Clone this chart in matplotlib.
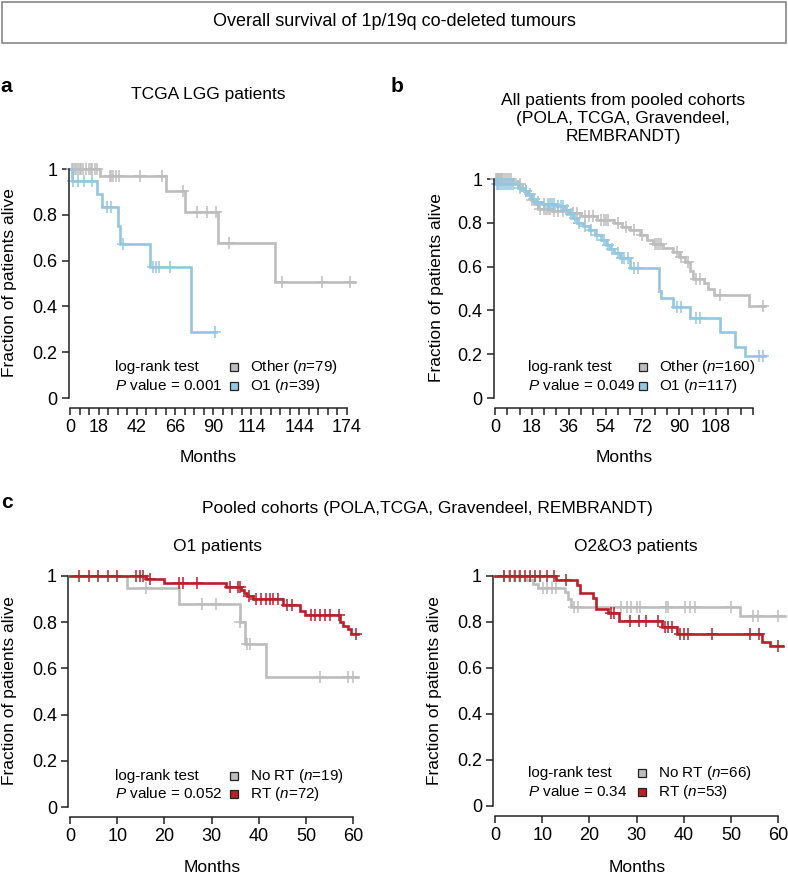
import numpy as np
import matplotlib
matplotlib.use("Agg")
import matplotlib.pyplot as plt
from matplotlib.patches import Rectangle

plt.rcParams['font.family'] = ['Liberation Sans', 'DejaVu Sans']
plt.rcParams['mathtext.fontset'] = 'custom'
plt.rcParams['mathtext.rm'] = 'Liberation Sans'
plt.rcParams['mathtext.it'] = 'Liberation Sans:italic'

# ---- data (months, fraction alive) ----
# panel a: TCGA LGG
a_other_t = [19, 60, 72, 93, 129]
a_other_s = [0.968, 0.903, 0.813, 0.678, 0.508]
a_other_cens = [1, 2, 3, 4, 5, 6, 7, 8, 10, 12, 13, 14, 16, 17, 25, 26, 27, 29, 31,
                44, 58, 71, 80, 86, 92, 100, 133, 158, 176]
a_other_end = 179
a_o1_t = [1, 17, 20, 30, 31.5, 50, 76]
a_o1_s = [0.949, 0.889, 0.836, 0.752, 0.672, 0.573, 0.287]
a_o1_cens = [2, 5, 9, 14, 23, 26, 33, 52, 54, 56, 63, 91]
a_o1_end = 92

# panel b: pooled cohorts
b_other_t = [9, 11, 13, 14.5, 16, 17.5, 19, 21, 28, 36, 42, 50, 58, 62, 66, 71, 74, 77,
             82, 87, 90, 93, 95, 96.5, 102, 104, 107, 124]
b_other_s = [0.99, 0.975, 0.96, 0.945, 0.925, 0.905, 0.885, 0.865, 0.855, 0.845, 0.83,
             0.815, 0.80, 0.78, 0.765, 0.745, 0.72, 0.705, 0.685, 0.665, 0.645, 0.62,
             0.58, 0.545, 0.525, 0.50, 0.47, 0.42]
b_other_cens = [0.5, 1, 1.5, 2, 2.5, 3, 3.5, 4, 5, 6, 7, 8, 12, 15, 18, 22, 24, 25, 26, 27,
                29, 31, 33, 38, 40, 44, 46, 48, 52, 53, 54, 55, 60, 64, 68, 72, 78, 79,
                80, 81, 89, 91, 94, 98, 100, 110, 131]
b_other_end = 132
b_o1_t = [0.5, 11, 14, 16, 18, 20, 23, 30, 34, 36, 38, 40, 43, 46, 49, 52, 54, 56, 58,
          61, 66, 80, 81, 87, 95, 110, 117, 122]
b_o1_s = [0.975, 0.96, 0.945, 0.93, 0.91, 0.895, 0.885, 0.875, 0.86, 0.84, 0.82, 0.80,
          0.785, 0.765, 0.745, 0.72, 0.70, 0.68, 0.66, 0.64, 0.595, 0.49, 0.455, 0.415,
          0.365, 0.30, 0.235, 0.19]
b_o1_cens = [1, 1.5, 2, 3, 4, 5, 6, 7, 8, 9, 12, 15, 17, 19, 21, 24, 26, 27, 28, 29, 31,
             32, 33, 35, 37, 39, 41, 44, 47, 50, 53, 55, 57, 60, 62, 63, 65, 68, 70, 89,
             91, 98, 100, 129, 131]
b_o1_end = 132

# panel c left: O1 patients
c1_nort_t = [12, 23, 36, 37, 41.5]
c1_nort_s = [0.947, 0.88, 0.80, 0.704, 0.561]
c1_nort_cens = [16, 28, 31, 36, 37.5, 38.2, 53, 59, 60]
c1_nort_end = 61
c1_rt_t = [16, 20, 33, 36.3, 36.8, 37.5, 38.8, 45.2, 48.7, 49.8, 57.2, 57.9, 58.9, 59.6]
c1_rt_s = [0.986, 0.969, 0.951, 0.94, 0.926, 0.914, 0.90, 0.876, 0.85, 0.83, 0.80,
           0.783, 0.77, 0.75]
c1_rt_cens = [2, 4, 6, 8, 10, 14, 14.8, 15.5, 17, 23, 24, 27, 34, 35.5, 36, 38, 39.5,
              40.5, 41.5, 42.3, 43, 44, 46, 47, 51, 52, 53, 54, 55, 57, 60.5]
c1_rt_end = 61

# panel c right: O2&O3 patients
c2_nort_t = [6.5, 8, 9.2, 14.8, 15.5, 16.2, 52]
c2_nort_s = [0.981, 0.964, 0.949, 0.93, 0.90, 0.865, 0.828]
c2_nort_cens = [2, 3, 4, 5, 10.2, 11, 12, 13, 16.7, 17.6, 26.8, 27.9, 28.9, 30, 30.8,
                36.3, 36.7, 40.2, 41.3, 42.3, 50, 54.7, 55.8, 60]
c2_nort_end = 61.5
c2_rt_t = [13, 17.3, 18, 20.7, 21.5, 24, 26.3, 35.3, 38.5, 56.5, 58.2]
c2_rt_s = [0.981, 0.96, 0.928, 0.906, 0.858, 0.837, 0.805, 0.78, 0.747, 0.714, 0.697]
c2_rt_cens = [2, 3.2, 4.2, 5.3, 6.4, 7.4, 8.5, 9.5, 11, 12.5, 15, 24.5, 25.3, 28.5, 30.5,
              32, 34.5, 36, 36.7, 37.5, 39.3, 40, 40.8, 46, 54, 56, 60]
c2_rt_end = 61

GREY = '#bdbdbd'
BLUE = '#95c6df'
RED = '#b8202a'
W, H = 788, 877

fig = plt.figure(figsize=(W / 100, H / 100), dpi=100)


def fx(px):
    return px / W


def fy(py):
    return 1 - py / H


def km(ax, times, surv, cens, end, color):
    x, y = [0], [1.0]
    for t, s in zip(times, surv):
        x += [t, t]
        y += [y[-1], s]
    x.append(end)
    y.append(y[-1])
    ax.plot(x, y, color=color, lw=1.9, solid_joinstyle='miter', clip_on=False)
    idx = np.searchsorted(np.array(times), np.array(cens), side='right')
    sv = np.concatenate([[1.0], surv])[idx]
    ax.plot(cens, sv, ls='none', marker='+', ms=8, mew=1.1, color=color, clip_on=False)


def make_axes(x0, ppu, xlim, y1, y0, xbound, ticks, labels):
    left = x0 + xlim[0] * ppu
    right = x0 + xlim[1] * ppu
    ax = fig.add_axes([fx(left), fy(y0), (right - left) / W, (y0 - y1) / H])
    ax.set_xlim(*xlim)
    ax.set_ylim(0, 1)
    for s in ['top', 'right']:
        ax.spines[s].set_visible(False)
    ax.spines['left'].set_bounds(0, 1)
    ax.spines['bottom'].set_bounds(*xbound)
    ax.spines['bottom'].set_position(('outward', 7.2))
    for s in ['left', 'bottom']:
        ax.spines[s].set_linewidth(1.1)
        ax.spines[s].set_color('#222222')
    ax.set_yticks([0, 0.2, 0.4, 0.6, 0.8, 1])
    ax.set_yticklabels(['0', '0.2', '0.4', '0.6', '0.8', '1'])
    ax.set_xticks(ticks)
    ax.set_xticklabels(labels)
    ax.tick_params(length=5, width=1.1, color='#222222', labelsize=13, pad=3)
    return ax


def legend(xl, xs, y1, y2, p_text, names, colors):
    fig.text(fx(xl), fy(y1), 'log-rank test', fontsize=11, va='center')
    fig.text(fx(xl), fy(y2), p_text, fontsize=11, va='center')
    for yy, name, col in zip([y1, y2], names, colors):
        fig.add_artist(Rectangle((fx(xs - 4), fy(yy + 4)), 8 / W, 8 / H, transform=fig.transFigure,
                                 facecolor=col, edgecolor='#222222', lw=0.9))
        fig.text(fx(xs + 16), fy(yy), name, fontsize=11, va='center')


# title box
fig.add_artist(Rectangle((fx(2), fy(43)), 784 / W, 41 / H, transform=fig.transFigure,
                         facecolor='none', edgecolor='#888888', lw=1.2))
fig.text(fx(394), fy(22), 'Overall survival of 1p/19q co-deleted tumours', fontsize=13,
         ha='center', va='center')

# ---- panel a ----
ticks_a = list(range(0, 175, 6))
lab_a = [str(t) if t in (0, 18, 42, 66, 90, 114, 144, 174) else '' for t in ticks_a]
ax = make_axes(70, 1.592, (-0.8, 182), 169, 398, (0, 174), ticks_a, lab_a)
km(ax, a_other_t, a_other_s, a_other_cens, a_other_end, GREY)
km(ax, a_o1_t, a_o1_s, a_o1_cens, a_o1_end, BLUE)
legend(115, 234, 367, 386, '$P$ value = 0.001', ['Other ($n$=79)', 'O1 ($n$=39)'], [GREY, BLUE])
fig.text(fx(6), fy(87), 'a', fontsize=15, fontweight='bold', ha='center', va='center')
fig.text(fx(208), fy(95), 'TCGA LGG patients', fontsize=12.5, ha='center', va='center')
fig.text(fx(10), fy(283), 'Fraction of patients alive', fontsize=12.5, rotation=90,
         ha='center', va='center')
fig.text(fx(208), fy(458), 'Months', fontsize=12.5, ha='center', va='center')

# ---- panel b ----
ticks_b = list(range(0, 127, 6))
lab_b = [str(t) if t in (0, 18, 36, 54, 72, 90, 108) else '' for t in ticks_b]
ax = make_axes(495, 2.048, (-0.6, 134), 179, 398, (0, 126), ticks_b, lab_b)
km(ax, b_other_t, b_other_s, b_other_cens, b_other_end, GREY)
km(ax, b_o1_t, b_o1_s, b_o1_cens, b_o1_end, BLUE)
legend(528, 643, 367, 386, '$P$ value = 0.049', ['Other ($n$=160)', 'O1 ($n$=117)'], [GREY, BLUE])
fig.text(fx(397), fy(87), 'b', fontsize=15, fontweight='bold', ha='center', va='center')
fig.text(fx(623), fy(118), 'All patients from pooled cohorts\n(POLA, TCGA, Gravendeel,\nREMBRANDT)',
         fontsize=12.5, ha='center', va='center', linespacing=1.25)
fig.text(fx(436), fy(288), 'Fraction of patients alive', fontsize=12.5, rotation=90,
         ha='center', va='center')
fig.text(fx(624), fy(458), 'Months', fontsize=12.5, ha='center', va='center')

# ---- panel c ----
fig.text(fx(7), fy(503), 'c', fontsize=15, fontweight='bold', ha='center', va='center')
fig.text(fx(427), fy(508), 'Pooled cohorts (POLA,TCGA, Gravendeel, REMBRANDT)', fontsize=12.5,
         ha='center', va='center')

ticks_c = list(range(0, 61, 10))
ax = make_axes(70, 4.72, (-0.4, 62), 576, 807, (0, 60), ticks_c, [str(t) for t in ticks_c])
km(ax, c1_nort_t, c1_nort_s, c1_nort_cens, c1_nort_end, GREY)
km(ax, c1_rt_t, c1_rt_s, c1_rt_cens, c1_rt_end, RED)
legend(115, 234, 776, 794, '$P$ value = 0.052', ['No RT ($n$=19)', 'RT ($n$=72)'], [GREY, RED])
fig.text(fx(217), fy(547), 'O1 patients', fontsize=12.5, ha='center', va='center')
fig.text(fx(10), fy(691), 'Fraction of patients alive', fontsize=12.5, rotation=90,
         ha='center', va='center')
fig.text(fx(212), fy(867), 'Months', fontsize=12.5, ha='center', va='center')

ax = make_axes(495, 4.72, (-0.4, 62), 576, 806, (0, 60), ticks_c, [str(t) for t in ticks_c])
km(ax, c2_nort_t, c2_nort_s, c2_nort_cens, c2_nort_end, GREY)
km(ax, c2_rt_t, c2_rt_s, c2_rt_cens, c2_rt_end, RED)
legend(528, 642, 773, 792, '$P$ value = 0.34', ['No RT ($n$=66)', 'RT ($n$=53)'], [GREY, RED])
fig.text(fx(636), fy(547), 'O2&O3 patients', fontsize=12.5, ha='center', va='center')
fig.text(fx(435), fy(691), 'Fraction of patients alive', fontsize=12.5, rotation=90,
         ha='center', va='center')
fig.text(fx(637), fy(868), 'Months', fontsize=12.5, ha='center', va='center')

fig.savefig('out.png', dpi=100)
